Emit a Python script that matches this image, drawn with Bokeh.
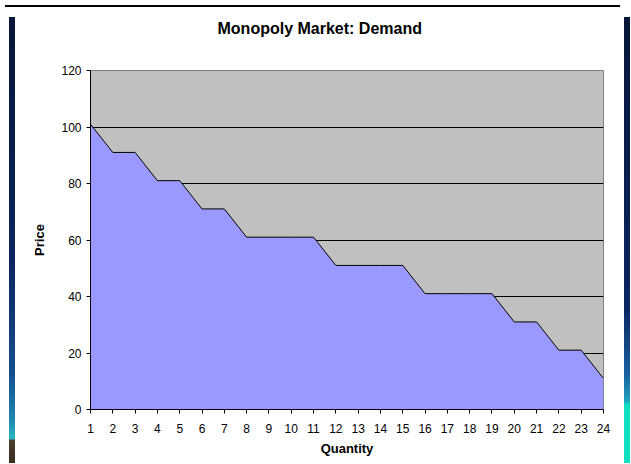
from bokeh.plotting import figure
from bokeh.models import ColumnDataSource, Div, FixedTicker, Range1d, Title
from bokeh.layouts import column, row
from bokeh.embed import file_html
from bokeh.resources import INLINE

title_text = "Monopoly Market: Demand"
x_label = "Quantity"
y_label = "Price"
quantity = list(range(1, 25))
price = [101, 91, 91, 81, 81, 71, 71, 61, 61, 61, 61, 51, 51, 51, 51,
         41, 41, 41, 41, 31, 31, 21, 21, 11]
y_ticks = [0, 20, 40, 60, 80, 100, 120]

src = ColumnDataSource(dict(x=quantity, y=price, base=[0] * len(quantity)))

FONT = "Liberation Sans"

p = figure(width=599, height=446, output_backend="svg", toolbar_location=None,
           x_range=Range1d(1, 24), y_range=Range1d(0, 120),
           min_border_left=70, min_border_right=16, min_border_top=58,
           min_border_bottom=48)
p.background_fill_color = "#c0c0c0"
p.border_fill_color = "white"
p.outline_line_color = "#808080"
p.outline_line_width = 1

p.title.text = title_text
p.title.align = "left"
p.title.offset = 127
p.title.text_font = FONT
p.title.text_font_size = "16px"
p.title.text_font_style = "bold"
p.title.text_color = "black"

# blank spacer between the title and the plot area
spacer = Title(text=" ", text_font_size="20px", standoff=5, text_font=FONT)
p.add_layout(spacer, "above")

p.varea(x="x", y1="base", y2="y", source=src, fill_color="#9999ff")
p.line(x="x", y="y", source=src, line_color="black", line_width=1)

p.xgrid.visible = False
p.ygrid.ticker = FixedTicker(ticks=y_ticks)
p.ygrid.grid_line_color = "black"
p.ygrid.grid_line_width = 1

p.xaxis.ticker = FixedTicker(ticks=quantity)
p.yaxis.ticker = FixedTicker(ticks=y_ticks)
for ax in (p.xaxis[0], p.yaxis[0]):
    ax.axis_line_color = "black"
    ax.major_tick_line_color = "black"
    ax.major_tick_in = 0
    ax.major_tick_out = 4
    ax.minor_tick_line_color = None
    ax.major_label_text_font = FONT
    ax.major_label_text_font_size = "12px"
    ax.major_label_text_color = "black"
    ax.axis_label_text_font = FONT
    ax.axis_label_text_font_size = "13px"
    ax.axis_label_text_font_style = "bold"
    ax.axis_label_text_color = "black"

p.xaxis.axis_label = x_label
p.yaxis.axis_label = y_label
p.xaxis.major_label_standoff = 10
p.xaxis.axis_label_standoff = 5
p.yaxis.major_label_standoff = 5
p.yaxis.axis_label_standoff = 11

top_line = Div(width=615, height=2, styles={"background": "black"})
left_stripe = Div(width=10, height=446, styles={
    "background": "linear-gradient(to right, white 0px, white 4px, transparent 4px), "
                  "linear-gradient(to bottom, #071638 0%, #0b2560 55%, #14508e 80%, "
                  "#1e86b0 90%, #2ab6c4 94.5%, #4a3c2a 95%, #3a2e20 100%)"})
right_stripe = Div(width=6, height=446, styles={
    "background": "linear-gradient(to bottom, #071638 0%, #0b2560 65%, #1860a0 80%, "
                  "#1ea0c0 86%, #10e0c0 87%, #10e0c0 100%)"})

layout = column(top_line, row(left_stripe, p, right_stripe, spacing=0), spacing=0)

open("out.html", "w").write(file_html(layout, INLINE))
